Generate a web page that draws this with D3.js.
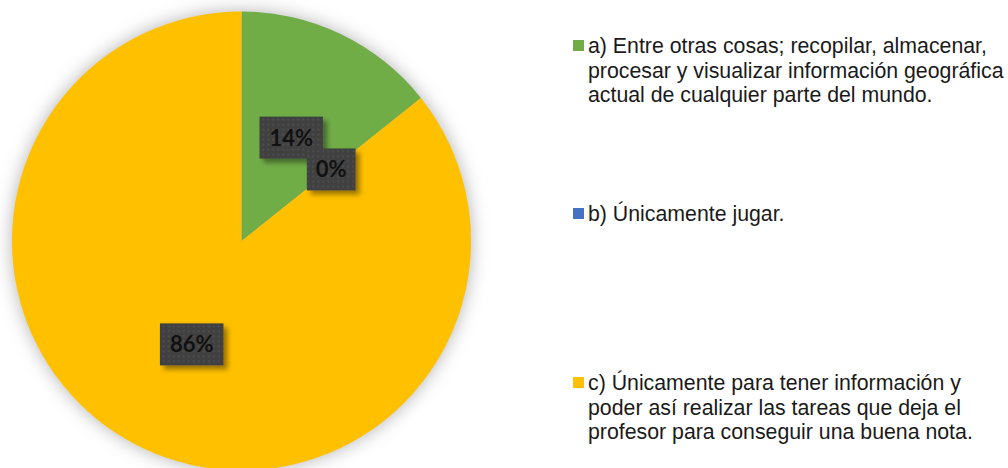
<!DOCTYPE html>
<html>
<head>
<meta charset="utf-8">
<script src="https://cdn.jsdelivr.net/npm/d3@7"></script>
<style>
  body { margin: 0; background: #fff; }
  svg { display: block; }
</style>
</head>
<body>
<svg id="chart" width="1008" height="468"></svg>
<script>
// categories (legend text, one array of lines per item)
const categories = [
  ['a) Entre otras cosas; recopilar, almacenar,', 'procesar y visualizar información geográfica', 'actual de cualquier parte del mundo.'],
  ['b) Únicamente jugar.'],
  ['c) Únicamente para tener información y', 'poder así realizar las tareas que deja el', 'profesor para conseguir una buena nota.']
];
const values = [1, 0, 6];
const labels = ['14%', '0%', '86%'];
const colours = ['#70AD47', '#4472C4', '#FFC000'];

const svg = d3.select('#chart');
const defs = svg.append('defs');

// soft glow behind the pie
const glow = defs.append('filter').attr('id', 'glow')
  .attr('x', '-20%').attr('y', '-20%').attr('width', '140%').attr('height', '140%');
glow.append('feGaussianBlur').attr('in', 'SourceAlpha').attr('stdDeviation', 9).attr('result', 'b');
glow.append('feFlood').attr('flood-color', '#000').attr('flood-opacity', 0.3);
glow.append('feComposite').attr('in2', 'b').attr('operator', 'in');

// drop shadow for the label boxes
const shadow = defs.append('filter').attr('id', 'shadow')
  .attr('x', '-30%').attr('y', '-30%').attr('width', '170%').attr('height', '180%');
shadow.append('feGaussianBlur').attr('in', 'SourceAlpha').attr('stdDeviation', 2.5).attr('result', 'b');
shadow.append('feOffset').attr('in', 'b').attr('dx', 4).attr('dy', 4).attr('result', 'o');
shadow.append('feFlood').attr('flood-color', '#000').attr('flood-opacity', 0.4);
shadow.append('feComposite').attr('in2', 'o').attr('operator', 'in').attr('result', 's');
const merge = shadow.append('feMerge');
merge.append('feMergeNode').attr('in', 's');
merge.append('feMergeNode').attr('in', 'SourceGraphic');

// dotted fill for the label boxes
const pat = defs.append('pattern').attr('id', 'dots')
  .attr('width', 5).attr('height', 5).attr('patternUnits', 'userSpaceOnUse');
pat.append('rect').attr('width', 5).attr('height', 5).attr('fill', '#404040');
pat.append('rect').attr('x', 1).attr('y', 1).attr('width', 2).attr('height', 2).attr('fill', '#4d4d4d');

const cx = 241.5, cy = 241, R = 229.5;
const chart = svg.append('g').attr('transform', `translate(${cx},${cy})`);

const pie = d3.pie().sort(null).value(d => d)(values);
const arc = d3.arc().innerRadius(0).outerRadius(R);

chart.append('circle').attr('r', R).attr('fill', '#fff').attr('filter', 'url(#glow)');

chart.selectAll('path.slice')
  .data(pie)
  .join('path')
  .attr('class', 'slice')
  .attr('d', arc)
  .attr('fill', (d, i) => colours[i]);

// data labels
for (let i = 0; i < pie.length; i++) {
  const [x, y] = arc.centroid(pie[i]);
  const g = chart.append('g').attr('transform', `translate(${x},${y})`);
  const box = g.append('rect');
  const t = g.append('text')
    .attr('text-anchor', 'middle')
    .attr('dy', '0.36em')
    .style('font-family', 'Lato, sans-serif')
    .style('font-weight', 'bold')
    .style('font-size', '22px')
    .style('fill', '#111')
    .text(labels[i]);
  const w = t.node().getComputedTextLength() + (labels[i].length > 2 ? 20 : 18);
  const h = 42;
  box.attr('x', -w / 2).attr('y', -h / 2).attr('width', w).attr('height', h)
    .attr('fill', 'url(#dots)')
    .attr('filter', 'url(#shadow)');
}

// legend
const legendX = 573;
const legendTop = [53, 221, 390];
const lineH = 24.5;
const legend = svg.append('g')
  .style('font-family', '"Liberation Sans", Arial, sans-serif')
  .style('font-size', '21.3px')
  .style('fill', '#1a1a1a');

categories.forEach((lines, i) => {
  const y0 = legendTop[i];
  legend.append('rect')
    .attr('x', legendX).attr('y', y0 - 13)
    .attr('width', 11).attr('height', 11)
    .attr('fill', colours[i]);
  lines.forEach((ln, j) => {
    legend.append('text')
      .attr('x', legendX + 15)
      .attr('y', y0 + j * lineH)
      .text(ln);
  });
});
</script>
</body>
</html>
